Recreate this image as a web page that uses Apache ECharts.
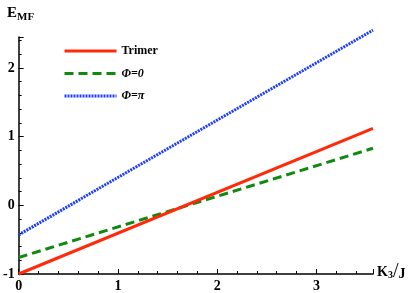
<!DOCTYPE html>
<html><head><meta charset="utf-8">
<script src="https://cdn.jsdelivr.net/npm/echarts@6/dist/echarts.min.js"></script>
<style>html,body{margin:0;padding:0;background:#fff}#c{width:415px;height:293px}</style>
</head><body><div id="c"></div>
<script>
const xVals = [0, 3.57];
const trimer = [-1.0, 1.12];
const phi0 = [-0.76, 0.83];
const phiPi = [-0.43, 2.55];
const seriesNames = ['Trimer', 'Φ=0', 'Φ=π'];
const xTicks = [0, 1, 2, 3];
const yTicks = [-1, 0, 1, 2];

const pairs = (ys) => xVals.map((x, i) => [x, ys[i]]);
const font = 'Liberation Serif';
const chart = echarts.init(document.getElementById('c'), null, {renderer: 'canvas'});
chart.setOption({
  animation: false,
  grid: {left: 18, right: 42, top: 37, bottom: 19},
  legend: {
    orient: 'vertical', left: 58, top: 40, itemWidth: 52, itemHeight: 14, itemGap: 10.5,
    itemStyle: {opacity: 0},
    lineStyle: {width: 3},
    textStyle: {fontFamily: font, fontSize: 12, fontWeight: 'bold', color: '#000',
      rich: {i: {fontFamily: font, fontSize: 12, fontStyle: 'italic', color: '#000'}}},
    formatter: (n) => n === 'Trimer' ? n : '{i|' + n + '}',
    data: seriesNames
  },
  xAxis: {
    type: 'value', min: 0, max: 3.57, interval: 1,
    axisLine: {onZero: false, lineStyle: {color: '#000', width: 1.5}},
    axisTick: {inside: true, length: 5, lineStyle: {color: '#000', width: 1}},
    minorTick: {show: true, splitNumber: 5, length: 3, lineStyle: {color: '#000', width: 1}},
    splitLine: {show: false},
    axisLabel: {fontFamily: font, fontSize: 14, fontWeight: 'bold', color: '#000', margin: 5,
      showMaxLabel: false,
      formatter: (v) => xTicks.includes(Math.round(v * 100) / 100) ? String(v) : ''}
  },
  yAxis: {
    type: 'value', min: -1, max: 2.45, interval: 1,
    axisLine: {show: true, onZero: false, lineStyle: {color: '#000', width: 1.5}},
    axisTick: {show: true, inside: true, length: 5, lineStyle: {color: '#000', width: 1}},
    minorTick: {show: true, splitNumber: 5, length: 3, lineStyle: {color: '#000', width: 1}},
    splitLine: {show: false},
    axisLabel: {fontFamily: font, fontSize: 14, fontWeight: 'bold', color: '#000', margin: 4,
      showMaxLabel: false,
      formatter: (v) => yTicks.includes(Math.round(v * 100) / 100) ? String(v) : ''}
  },
  series: [
    {name: seriesNames[0], type: 'line', data: pairs(trimer), symbol: 'none', clip: false,
      lineStyle: {color: '#ff2a0a', width: 3}, itemStyle: {color: '#ff2a0a'}, z: 3},
    {name: seriesNames[1], type: 'line', data: pairs(phi0), symbol: 'none', clip: false,
      lineStyle: {color: '#0f8a0f', width: 3, type: [9, 5]}, itemStyle: {color: '#0f8a0f'}, z: 2},
    {name: seriesNames[2], type: 'line', data: pairs(phiPi), symbol: 'none', clip: false,
      lineStyle: {color: '#1a3cff', width: 3, type: [2, 1]}, itemStyle: {color: '#1a3cff'}, z: 1}
  ],
  graphic: [
    {type: 'text', left: 7, top: 6, style: {
      text: '{e|E}{s|MF}', rich: {
        e: {fontFamily: font, fontSize: 15, fontWeight: 'bold', fill: '#000'},
        s: {fontFamily: font, fontSize: 11, fontWeight: 'bold', fill: '#000', padding: [7, 0, 0, 0]}
      }}},
    {type: 'text', left: 377, top: 262, style: {
      text: '{k|K}{s|3}{sl|/}{j|J}', rich: {
        k: {fontFamily: font, fontSize: 14, fontWeight: 'bold', fill: '#000'},
        s: {fontFamily: font, fontSize: 10, fontWeight: 'bold', fill: '#000', padding: [7, 0, 0, 0]},
        sl: {fontFamily: font, fontSize: 20, fill: '#000'},
        j: {fontFamily: font, fontSize: 14, fontWeight: 'bold', fill: '#000', padding: [5, 0, 0, 0]}
      }}}
  ]
});
</script></body></html>
